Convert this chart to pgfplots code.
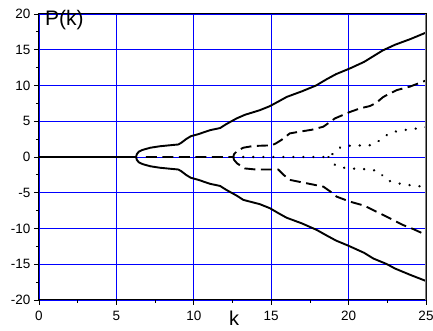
\documentclass[border=0pt]{standalone}
\usepackage{pgfplots}
\pgfplotsset{compat=1.18}
\usepackage{fontspec}
\setmainfont{Liberation Sans}
\begin{document}
\begin{tikzpicture}
\begin{axis}[
 scale only axis, width=387pt, height=286pt,
 xmin=0, xmax=25, ymin=-20, ymax=20,
 xtick={0,5,...,25}, ytick={-20,-15,...,20},
 minor tick num=1,
 tick align=outside, xtick pos=bottom, ytick pos=left,
 major tick length=5pt, minor tick length=3pt,
 grid=major, major grid style={blue, line width=0.8pt},
 axis line style={black, line width=1pt},
 tick style={black, line width=0.8pt},
 tick label style={font=\fontsize{13.5}{15}\selectfont},
 xticklabel style={yshift=-2.5pt},
 /pgf/number format/assume math mode=true,
 every axis plot/.append style={black, line width=1.9pt},
]
% solid upper
\addplot[solid] coordinates {(0,0) (6.27,0) (6.32,0.4) (6.45,0.75) (6.7,1.0) (7.2,1.3) (7.8,1.5) (8.5,1.65) (9.0,1.75) (9.2,2.0) (9.5,2.5) (9.8,2.9) (10.3,3.2) (11.05,3.75) (11.7,4.05) (12.1,4.6) (12.77,5.4) (13.3,5.9) (14.27,6.55) (14.9,7.1) (15.5,7.8) (16.0,8.4) (17.0,9.2) (17.9,10.0) (18.6,10.9) (19.2,11.6) (20.1,12.4) (21.0,13.3) (21.6,14.1) (22.2,14.9) (23.0,15.7) (24.0,16.5) (25,17.4)};
% solid lower
\addplot[solid] coordinates {(6.27,0) (6.32,-0.4) (6.45,-0.75) (6.7,-1.0) (7.2,-1.3) (7.8,-1.5) (8.5,-1.65) (9.0,-1.75) (9.2,-2.0) (9.5,-2.5) (9.8,-2.9) (10.3,-3.2) (11.05,-3.75) (11.7,-4.05) (12.1,-4.6) (12.77,-5.4) (13.2,-6.0) (14.27,-6.6) (14.92,-7.17) (15.5,-7.9) (16.0,-8.5) (17.0,-9.3) (17.94,-10.2) (18.6,-11.0) (19.2,-11.7) (19.98,-12.4) (21.0,-13.4) (21.6,-14.2) (22.46,-14.97) (23.0,-15.6) (24.0,-16.5) (25,-17.34)};
% dashed upper
\addplot[dash pattern=on 11pt off 5.5pt] coordinates {(6.9,0) (12.55,0) (12.6,0.4) (12.8,0.85) (13.2,1.3) (13.84,1.54) (15.03,1.63) (15.3,1.9) (15.67,2.4) (16.2,3.3) (16.86,3.55) (17.6,3.8) (18.37,4.24) (18.8,4.9) (19.12,5.4) (20.09,6.3) (20.74,6.8) (21.38,7.13) (21.8,7.6) (22.24,8.4) (23.1,9.35) (23.97,9.85) (25,10.7)};
% dashed lower
\addplot[dash pattern=on 11pt off 5.5pt] coordinates {(12.55,0) (12.6,-0.4) (12.8,-0.9) (13.3,-1.6) (14.0,-1.75) (15.46,-1.75) (15.8,-2.5) (16.2,-3.2) (17.3,-3.68) (18.37,-4.15) (18.8,-4.8) (19.23,-5.55) (20.1,-6.25) (21.0,-6.8) (21.8,-7.65) (22.6,-8.5) (23.5,-9.5) (24.2,-10.1) (25,-10.9)};
% dotted upper
\addplot[line width=2.6pt, line cap=round, dash pattern=on 0.01pt off 10pt] coordinates {(12.55,0) (18.7,0) (18.9,0.3) (19.2,0.9) (19.5,1.4) (20.1,1.58) (21.45,1.65) (21.8,2.0) (22.1,2.5) (22.67,3.36) (23.36,3.73) (24.07,3.87) (25,4.2)};
% dotted lower
\addplot[line width=2.6pt, line cap=round, dash pattern=on 0.01pt off 10pt] coordinates {(18.7,0) (18.9,-0.4) (19.12,-1.12) (19.83,-1.58) (21.25,-1.72) (21.9,-1.96) (22.2,-2.6) (22.48,-3.26) (23.19,-3.68) (23.88,-3.92) (25,-4.2)};
\draw[gray, line width=1.6pt] (rel axis cs:1,0) -- (rel axis cs:1,1);
\end{axis}
\node[anchor=base west, inner sep=0pt, font=\fontsize{21}{24}\selectfont] at (6pt,274pt) {P(k)};
\node[anchor=base west, inner sep=0pt, font=\fontsize{20}{24}\selectfont] at (190pt,-26pt) {k};
\pgfresetboundingbox
\path (-39pt,-31pt) rectangle (394pt,300pt);
\end{tikzpicture}
\end{document}
